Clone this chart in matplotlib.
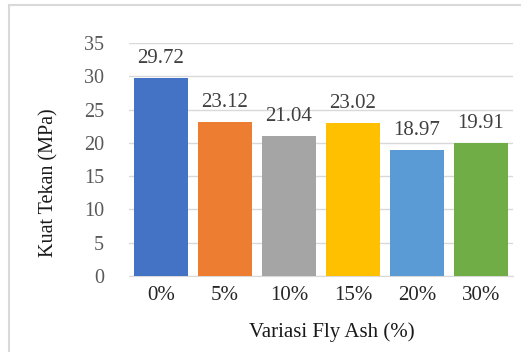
import matplotlib
matplotlib.use('Agg')
import matplotlib.pyplot as plt
from matplotlib.patches import Rectangle

# データ
variasi = ['0%', '5%', '10%', '15%', '20%', '30%']
kuat_tekan = [29.72, 23.12, 21.04, 23.02, 18.97, 19.91]
warna = ['#4472C4', '#ED7D31', '#A5A5A5', '#FFC000', '#5B9BD5', '#70AD47']
y_ticks = [0, 5, 10, 15, 20, 25, 30, 35]

plt.rcParams['font.family'] = ['Liberation Serif', 'DejaVu Serif']

fig = plt.figure(figsize=(5.21, 3.52), dpi=100)
ax = fig.add_axes([129 / 521, 1 - 276 / 352, 384 / 521, 233 / 352])

# 外枠
fig.patches.append(Rectangle((9 / 521, -0.1), 1.2, 1 - 5.5 / 352 + 0.1,
                             transform=fig.transFigure, fill=False,
                             edgecolor='#d9d9d9', linewidth=1.5))

x = range(len(variasi))
bars = ax.bar(x, kuat_tekan, width=0.83, color=warna, zorder=3)

for xi, v in zip(x, kuat_tekan):
    ax.text(xi, v + 1.5, f'{v:.2f}', ha='center', va='bottom',
            fontsize=15, color='#404040')

ax.set_ylim(0, 35)
ax.set_xlim(-0.5, len(variasi) - 0.5)
ax.set_yticks(y_ticks)
ax.set_xticks(list(x))
ax.set_xticklabels(variasi)
ax.tick_params(axis='y', length=0, labelsize=14.5, labelcolor='#595959', pad=18)
ax.tick_params(axis='x', length=0, labelsize=15, labelcolor='#262626', pad=7)
ax.grid(axis='y', color='#d9d9d9', linewidth=1, zorder=0)
for s in ['top', 'right', 'left']:
    ax.spines[s].set_visible(False)
ax.spines['bottom'].set_color('#d9d9d9')

fig.text(49 / 521, 1 - 183 / 352, 'Kuat Tekan (MPa)', rotation=90,
         ha='center', va='center', fontsize=14.5, color='#1a1a1a')
fig.text(332 / 521, 1 - 332 / 352, 'Variasi Fly Ash (%)',
         ha='center', va='center', fontsize=15, color='#1a1a1a')

fig.savefig('out.png', dpi=100)
